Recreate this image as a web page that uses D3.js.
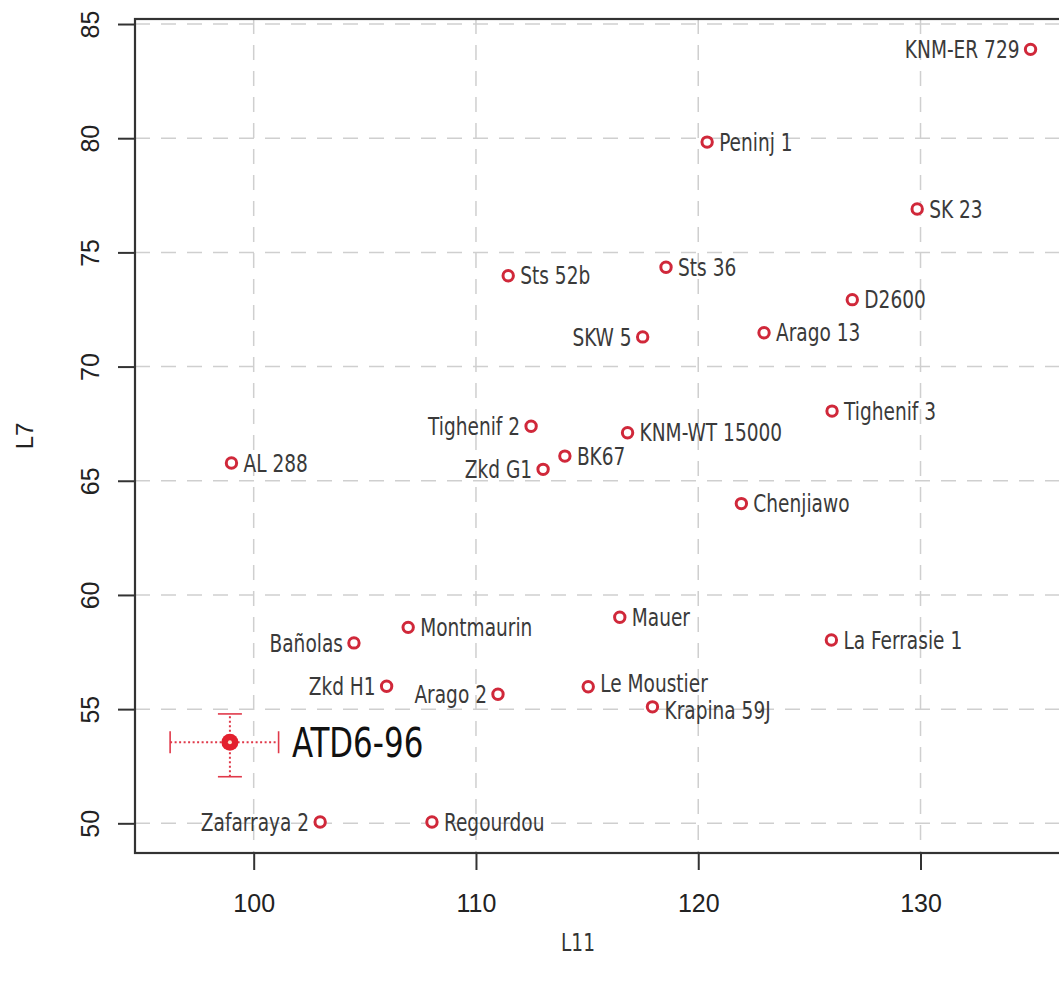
<!DOCTYPE html>
<html>
<head>
<meta charset="utf-8">
<script src="https://cdn.jsdelivr.net/npm/d3@7"></script>
<style>
  html, body { margin: 0; padding: 0; background: #fff; }
  svg { display: block; }
</style>
</head>
<body>
<svg id="chart" width="1059" height="981"></svg>
<script>
// ---- data ----
const names = ["KNM-ER 729","Peninj 1","SK 23","Sts 52b","Sts 36","D2600","SKW 5","Arago 13",
  "Tighenif 2","KNM-WT 15000","Tighenif 3","AL 288","BK67","Zkd G1","Chenjiawo","Mauer",
  "Montmaurin","Bañolas","La Ferrasie 1","Zkd H1","Le Moustier","Arago 2","Krapina 59J",
  "Zafarraya 2","Regourdou"];
const L11 = [134.95,120.4,129.85,111.45,118.55,126.93,117.5,122.96,
  112.48,116.82,126.02,99.0,114.0,113.02,121.94,116.47,
  106.95,104.51,125.99,105.98,115.05,110.99,117.94,
  102.99,108.02];
const L7 = [83.89,79.83,76.9,73.98,74.35,72.93,71.3,71.48,
  67.39,67.1,68.05,65.78,66.08,65.5,64.0,59.02,
  58.58,57.9,58.03,56.0,55.98,55.65,55.1,
  50.06,50.06];
// label side, as in R's text(pos=): "l" = left of point, "r" = right of point
const labelSide = ["l","r","r","r","r","r","l","r",
  "l","r","r","r","r","l","r","r",
  "r","l","r","l","r","l","r",
  "l","r"];
const focal = { name: "ATD6-96", L11: 98.93, L7: 53.55, L11min: 96.24, L11max: 101.12, L7min: 52.04, L7max: 54.79 };
const xTicks = [100, 110, 120, 130, 140];
const yTicks = [50, 55, 60, 65, 70, 75, 80, 85];

// ---- layout / style ----
const svg = d3.select("#chart");
const pLeft = 135, pTop = 19, pBottom = 853, pRight = 1065;
const x = d3.scaleLinear().domain([94.66, 136.5]).range([pLeft, pRight]);
const y = d3.scaleLinear().domain([48.70, 85.22]).range([pBottom, pTop]);

const red = "#d0283a";
const labelFont = "'DejaVu Sans Condensed', 'DejaVu Sans', sans-serif";
const tickFont = "'Liberation Sans', Arial, sans-serif";
const sx = 0.86;
// small manual label nudges (px) to keep close labels apart, as in the reference
const labelNudgeY = { "Le Moustier": -3, "Krapina 59J": 4 };

// grid
const grid = svg.append("g").attr("stroke", "#cfcfcf").attr("stroke-width", 1.5).attr("stroke-dasharray", "15,11");
grid.selectAll("line.v").data(xTicks.filter(d => x(d) < pRight)).join("line").attr("class", "v")
  .attr("x1", d => x(d)).attr("x2", d => x(d)).attr("y1", pTop).attr("y2", pBottom);
grid.selectAll("line.h").data(yTicks).join("line").attr("class", "h")
  .attr("y1", d => y(d)).attr("y2", d => y(d)).attr("x1", pLeft).attr("x2", pRight);

// axes
const xAxis = d3.axisBottom(x).tickValues(xTicks.filter(d => x(d) < 1059)).tickSize(17).tickPadding(24).tickFormat(d3.format("d"));
const gx = svg.append("g").attr("transform", `translate(0,${pBottom})`).call(xAxis);
gx.select(".domain").remove();
gx.selectAll(".tick line").attr("stroke", "#333").attr("stroke-width", 2);
gx.selectAll(".tick text").attr("font-family", tickFont).attr("font-size", 25).attr("fill", "#222");

const yAxis = d3.axisLeft(y).tickValues(yTicks).tickSize(17).tickPadding(0).tickFormat(d3.format("d"));
const gy = svg.append("g").attr("transform", `translate(${pLeft},0)`).call(yAxis);
gy.select(".domain").remove();
gy.selectAll(".tick line").attr("stroke", "#333").attr("stroke-width", 2);
gy.selectAll(".tick text")
  .attr("font-family", tickFont).attr("font-size", 25).attr("fill", "#222")
  .attr("text-anchor", "middle").attr("x", null).attr("dy", null)
  .attr("transform", "translate(-36,0) rotate(-90)");

// box
svg.append("rect").attr("x", pLeft).attr("y", pTop).attr("width", pRight - pLeft).attr("height", pBottom - pTop)
  .attr("fill", "none").attr("stroke", "#333").attr("stroke-width", 2.2);

// axis titles
svg.append("text").attr("transform", `translate(33,${(pTop + pBottom) / 2}) rotate(-90)`)
  .attr("text-anchor", "middle").attr("font-family", tickFont).attr("font-size", 24).attr("fill", "#222").text("L7");
svg.append("text").attr("transform", `translate(578,951) scale(${sx},1)`)
  .attr("text-anchor", "middle").attr("font-family", labelFont).attr("font-size", 24).attr("fill", "#333").text("L11");

// points
const pts = names.map((n, i) => ({ name: n, x: L11[i], y: L7[i], side: labelSide[i] }));
svg.append("g").selectAll("circle").data(pts).join("circle")
  .attr("cx", d => x(d.x)).attr("cy", d => y(d.y)).attr("r", 5.2)
  .attr("fill", "#fff").attr("stroke", red).attr("stroke-width", 3);

svg.append("g").selectAll("text").data(pts).join("text")
  .attr("transform", d => `translate(${x(d.x) + (d.side === "r" ? 12 : -11)},${y(d.y) + (labelNudgeY[d.name] || 0)}) scale(${sx},1)`)
  .attr("dy", "0.36em")
  .attr("text-anchor", d => d.side === "r" ? "start" : "end")
  .attr("font-family", labelFont).attr("font-size", 24).attr("fill", "#3a3a3a")
  .text(d => d.name);

// focal specimen with error bars
const fx = x(focal.L11), fy = y(focal.L7);
const eb = svg.append("g").attr("stroke", "#e0394a");
eb.append("line").attr("x1", x(focal.L11min)).attr("x2", x(focal.L11max)).attr("y1", fy).attr("y2", fy)
  .attr("stroke-width", 2).attr("stroke-dasharray", "2,2.5");
eb.append("line").attr("x1", fx).attr("x2", fx).attr("y1", y(focal.L7min)).attr("y2", y(focal.L7max))
  .attr("stroke-width", 2).attr("stroke-dasharray", "2,2.5");
[focal.L11min, focal.L11max].forEach(v => eb.append("line")
  .attr("x1", x(v)).attr("x2", x(v)).attr("y1", fy - 11).attr("y2", fy + 11).attr("stroke-width", 1.6));
[focal.L7min, focal.L7max].forEach(v => eb.append("line")
  .attr("x1", fx - 12).attr("x2", fx + 12).attr("y1", y(v)).attr("y2", y(v)).attr("stroke-width", 1.6));
svg.append("circle").attr("cx", fx).attr("cy", fy).attr("r", 8.5).attr("fill", "#e3202e");
svg.append("circle").attr("cx", fx).attr("cy", fy).attr("r", 2).attr("fill", "#fbe3d0");
svg.append("text").attr("transform", `translate(${fx + 62},${fy}) scale(${sx},1)`)
  .attr("dy", "0.36em").attr("font-family", labelFont).attr("font-size", 40).attr("fill", "#111")
  .text(focal.name);
</script>
</body>
</html>
